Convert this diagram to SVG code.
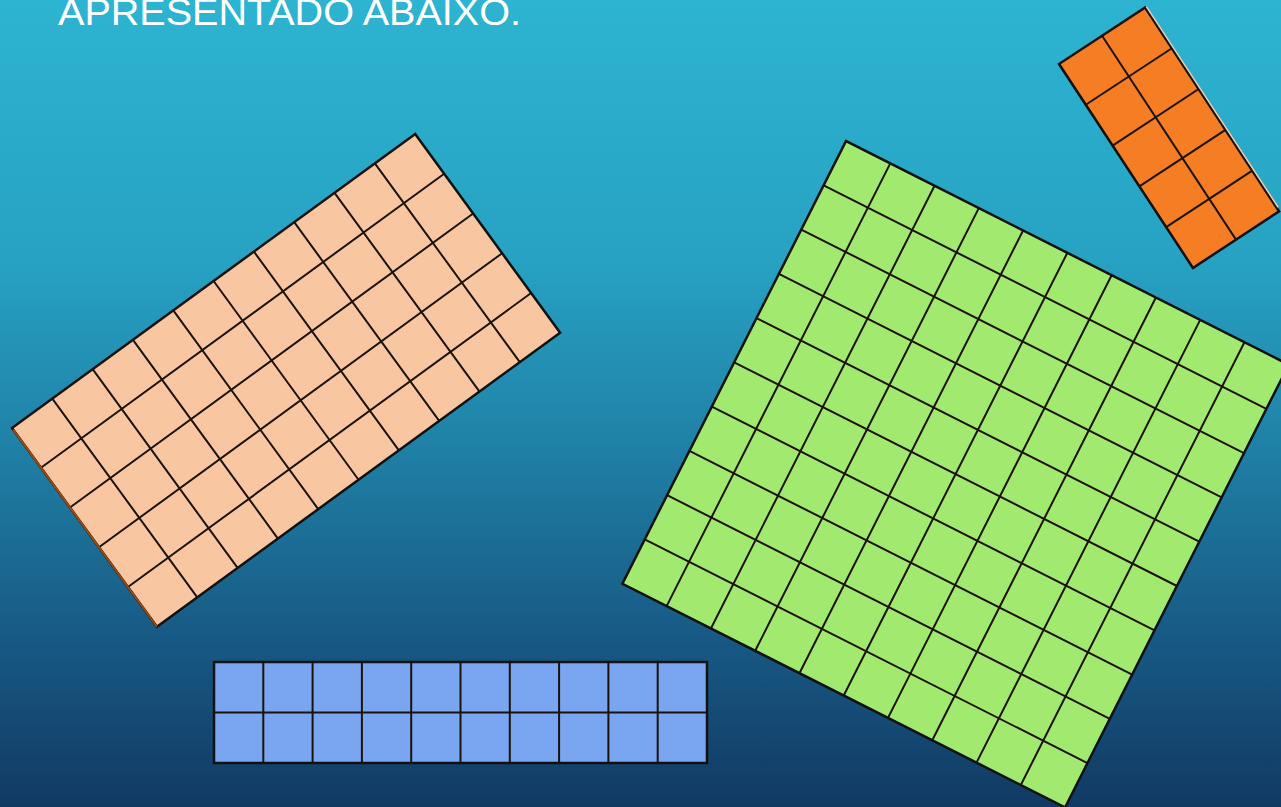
<svg xmlns="http://www.w3.org/2000/svg" width="1281" height="807" viewBox="0 0 1281 807">
<defs>
<linearGradient id="bg" x1="0" y1="0" x2="0" y2="1">
<stop offset="0" stop-color="#2db4d1"/>
<stop offset="0.32" stop-color="#27a2c3"/>
<stop offset="0.5" stop-color="#2189ad"/>
<stop offset="0.8" stop-color="#175883"/>
<stop offset="1" stop-color="#113a63"/>
</linearGradient>
</defs>
<style>
.grid{fill:none;stroke:#1c1208;stroke-width:2}
.edge{fill:none;stroke:#111;stroke-width:2.5}
.title{font-family:"Liberation Sans",Arial,sans-serif;font-size:37px;fill:#ffffff}
</style>
<rect x="0" y="0" width="1281" height="807" fill="url(#bg)"/>
<text class="title" x="58" y="25" textLength="463" lengthAdjust="spacingAndGlyphs">APRESENTADO ABAIXO.</text>

<g id="peach" transform="translate(12,428) rotate(-36.1)">
<rect x="0" y="0" width="499" height="246" fill="#f9c6a2"/>
<path class="grid" stroke="#2a1a0c" d="M49.9 0V246M99.8 0V246M149.7 0V246M199.6 0V246M249.5 0V246M299.4 0V246M349.3 0V246M399.2 0V246M449.1 0V246M0 49.2H499M0 98.4H499M0 147.6H499M0 196.8H499"/>
<rect class="edge" x="0" y="0" width="499" height="246" stroke-width="2"/>
<line x1="0" y1="2" x2="0" y2="246" stroke="#a04a10" stroke-width="2"/>
</g>

<g id="green" transform="translate(846,141) rotate(26.8)">
<rect x="0" y="0" width="496" height="496" fill="#a2ea6f"/>
<path class="grid" stroke="#1a2a10" d="M49.6 0V496M99.2 0V496M148.8 0V496M198.4 0V496M248 0V496M297.6 0V496M347.2 0V496M396.8 0V496M446.4 0V496M0 49.6H496M0 99.2H496M0 148.8H496M0 198.4H496M0 248H496M0 297.6H496M0 347.2H496M0 396.8H496M0 446.4H496"/>
<rect class="edge" x="0" y="0" width="496" height="496"/>
</g>

<g id="orange" transform="translate(1059,64) rotate(-33.3)">
<rect x="0" y="0" width="103" height="244" fill="#f57d24"/>
<path class="grid" d="M51.5 0V244M0 48.8H103M0 97.6H103M0 146.4H103M0 195.2H103"/>
<rect class="edge" x="0" y="0" width="103" height="244"/>
<line x1="104.5" y1="0" x2="104.5" y2="240" stroke="#f6c9a8" stroke-width="1.5"/>
</g>

<g id="blue">
<rect x="214" y="662" width="493" height="101" fill="#7aa5f0"/>
<path class="grid" stroke="#0a0a0a" stroke-width="2.5" d="M263.3 662V763M312.6 662V763M361.9 662V763M411.2 662V763M460.5 662V763M509.8 662V763M559.1 662V763M608.4 662V763M657.7 662V763M214 712.5H707"/>
<rect class="edge" x="214" y="662" width="493" height="101" stroke-width="3"/>
</g>
</svg>
